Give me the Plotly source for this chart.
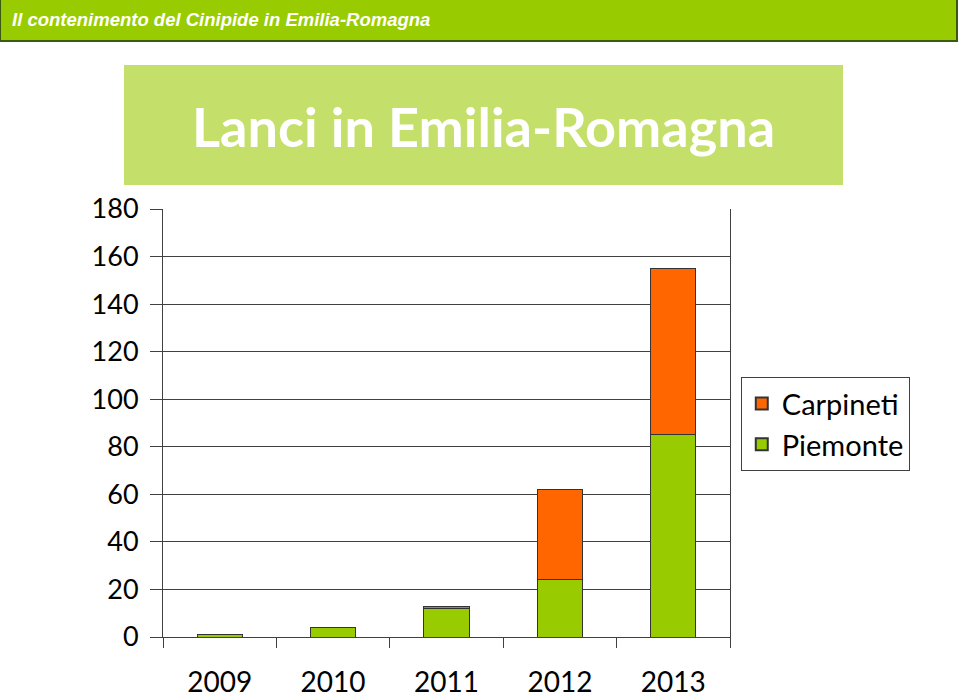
import plotly.graph_objects as go

years = ["2009", "2010", "2011", "2012", "2013"]
piemonte = [1, 4, 12, 24, 85]
carpineti = [0, 0, 1, 38, 70]
y_ticks = [0, 20, 40, 60, 80, 100, 120, 140, 160, 180]

GREEN = "#99CC00"
ORANGE = "#FF6600"
FONT = "Lato, Carlito, Calibri, sans-serif"

fig = go.Figure()
fig.add_trace(go.Bar(x=years, y=piemonte, name="Piemonte",
                     marker=dict(color=GREEN, line=dict(color="#333333", width=1))))
fig.add_trace(go.Bar(x=years, y=carpineti, name="Carpineti",
                     marker=dict(color=ORANGE, line=dict(color="#333333", width=1))))

fig.update_layout(
    width=960, height=699,
    margin=dict(l=163, r=230, t=209, b=62, autoexpand=False),
    barmode="stack", bargap=0.6,
    plot_bgcolor="white", paper_bgcolor="white",
    font=dict(family=FONT, color="black"),
    showlegend=True,
    legend=dict(x=1.019, y=0.607, xanchor="left", yanchor="top",
                bordercolor="#404040", borderwidth=1,
                font=dict(size=29, family=FONT), traceorder="reversed",
                itemsizing="constant"),
    xaxis=dict(type="category", showgrid=False, showline=True, linecolor="#404040",
               linewidth=1, ticks="outside", tickson="boundaries", ticklen=10,
               tickcolor="#404040", tickfont=dict(size=28, family=FONT),
               ticklabelstandoff=20, automargin=False),
    yaxis=dict(range=[0, 180], tickvals=y_ticks, showgrid=True, gridcolor="#404040",
               gridwidth=1, showline=True, linecolor="#404040", linewidth=1,
               mirror=True, ticks="outside", ticklen=12, tickcolor="#404040",
               tickfont=dict(size=27, family=FONT), ticklabelstandoff=6,
               zeroline=False, automargin=False),
)

# header bar
fig.add_shape(type="rect", xref="paper", yref="paper",
              x0=-163/567, x1=(957-163)/567,
              y0=(637-41)/428, y1=(637-0)/428 + 0.01,
              fillcolor=GREEN, line=dict(color="#3A5A10", width=2), layer="above")
fig.add_annotation(xref="paper", yref="paper", x=-153/567, y=(637-20)/428,
                   xanchor="left", yanchor="middle", showarrow=False,
                   text="<b><i>Il contenimento del Cinipide in Emilia-Romagna</i></b>",
                   font=dict(family="Liberation Sans, Arial, sans-serif", size=18.5, color="white"))

# title box
fig.add_shape(type="rect", xref="paper", yref="paper",
              x0=(124-163)/567, x1=(843-163)/567,
              y0=(637-185)/428, y1=(637-65)/428,
              fillcolor="#C4DF6A", line=dict(width=0), layer="above")
fig.add_annotation(xref="paper", yref="paper", x=(483-163)/567, y=(637-127)/428,
                   xanchor="center", yanchor="middle", showarrow=False,
                   text="<b>Lanci in Emilia-Romagna</b>",
                   font=dict(family=FONT, size=54, color="white"))

fig.write_html("out.html")
